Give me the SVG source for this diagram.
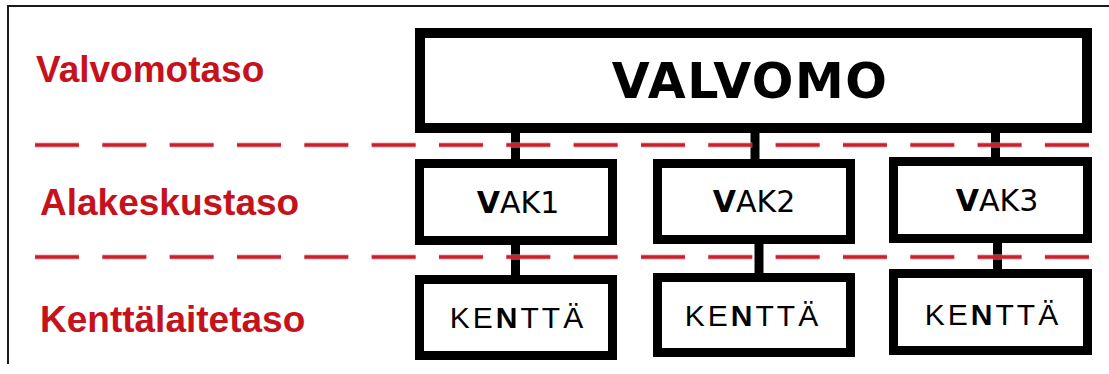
<svg xmlns="http://www.w3.org/2000/svg" width="1109" height="374" viewBox="0 0 1109 374">
  <style>
    .frame { stroke: #1a1a1a; stroke-width: 2; fill: none; }
    .box { fill: #ffffff; stroke: #000000; stroke-width: 9; }
    .main { stroke-width: 10; }
    .link { stroke: #000000; stroke-width: 9; fill: none; }
    .level { font-family: "Liberation Sans", Arial, sans-serif; font-weight: bold; font-size: 37px; fill: #c5121c; }
    .title { font-family: "DejaVu Sans", Verdana, sans-serif; font-weight: bold; font-size: 49px; fill: #000000; letter-spacing: 1.5px; }
    .sub { font-family: "DejaVu Sans", Verdana, sans-serif; font-size: 30px; fill: #000000; }
    .field { font-family: "Liberation Sans", Arial, sans-serif; font-size: 30px; fill: #000000; letter-spacing: 3px; }
    .b { font-weight: bold; }
    .sep { stroke: #cc1f2b; stroke-width: 3.5; stroke-dasharray: 44 23.33; fill: none; }
    .halo { stroke: #f2a3aa; stroke-width: 6; stroke-dasharray: 44 23.33; fill: none; opacity: 0.45; }
  </style>

  <rect width="1109" height="374" fill="#ffffff"/>

  <!-- outer frame: top and left edges only -->
  <path class="frame" d="M8 364 V6 H1109"/>

  <!-- level labels -->
  <text class="level" x="36" y="82">Valvomotaso</text>
  <text class="level" x="40" y="215">Alakeskustaso</text>
  <text class="level" x="40" y="332">Kenttälaitetaso</text>

  <!-- connectors -->
  <g id="connectors">
    <line class="link" x1="515.5" y1="130" x2="515.5" y2="162"/>
    <line class="link" x1="755" y1="130" x2="755" y2="162"/>
    <line class="link" x1="995.5" y1="130" x2="995.5" y2="160"/>
    <line class="link" x1="515.5" y1="242" x2="515.5" y2="278"/>
    <line class="link" x1="759" y1="241" x2="759" y2="276"/>
    <line class="link" x1="997.5" y1="240" x2="997.5" y2="272"/>
  </g>

  <g id="valvomo">
    <rect class="box main" x="420" y="33" width="667" height="95"/>
    <text class="title" x="750" y="98" text-anchor="middle">VALVOMO</text>
  </g>

  <g id="vak1">
    <rect class="box" x="419.5" y="163.5" width="193" height="77"/>
    <text class="sub" x="518" y="213" text-anchor="middle"><tspan class="b">V</tspan>AK1</text>
  </g>
  <g id="vak2">
    <rect class="box" x="657.5" y="163.5" width="193" height="76"/>
    <text class="sub" x="754" y="212" text-anchor="middle"><tspan class="b">V</tspan>AK2</text>
  </g>
  <g id="vak3">
    <rect class="box" x="893.5" y="161.5" width="194" height="77"/>
    <text class="sub" x="997" y="211" text-anchor="middle"><tspan class="b">V</tspan>AK3</text>
  </g>

  <g id="kentta1">
    <rect class="box" x="419.5" y="279.5" width="193" height="76"/>
    <text class="field" x="518" y="328" text-anchor="middle">KE<tspan class="b">N</tspan>TTÄ</text>
  </g>
  <g id="kentta2">
    <rect class="box" x="657.5" y="277.5" width="193" height="75"/>
    <text class="field" x="753" y="326" text-anchor="middle">KE<tspan class="b">N</tspan>TTÄ</text>
  </g>
  <g id="kentta3">
    <rect class="box" x="893.5" y="273.5" width="194" height="77"/>
    <text class="field" x="993" y="325" text-anchor="middle">KE<tspan class="b">N</tspan>TTÄ</text>
  </g>

  <!-- level separators, drawn over the links -->
  <g id="separators">
    <line class="halo" x1="35" y1="145" x2="1089" y2="145"/>
    <line class="halo" x1="35" y1="257" x2="1089" y2="257"/>
    <line class="sep" x1="35" y1="145" x2="1089" y2="145"/>
    <line class="sep" x1="35" y1="257" x2="1089" y2="257"/>
  </g>
</svg>
